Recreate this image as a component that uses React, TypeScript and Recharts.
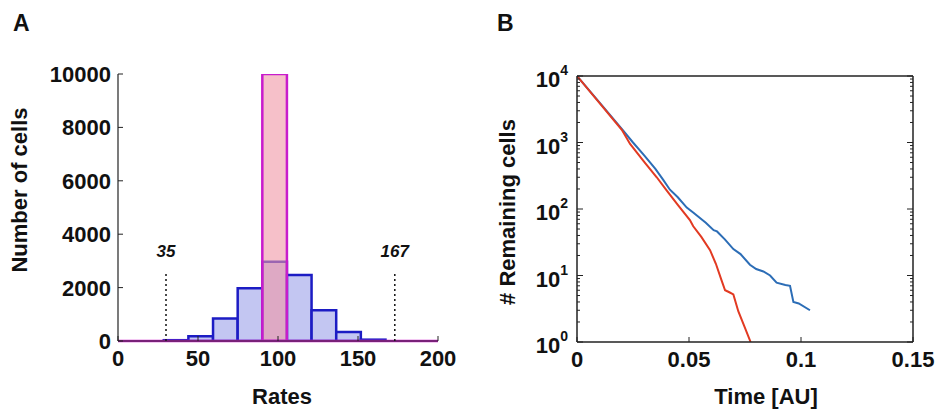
import React from 'react';
import { ComposedChart, Bar, Line, XAxis, YAxis, ReferenceLine } from 'recharts';

// panel A: histogram of rates
const binCenters = [36.3, 51.7, 67.1, 82.5, 97.9, 113.3, 128.7, 144.1, 159.5];
const spreadCounts = [30, 180, 840, 1980, 2970, 2470, 1150, 340, 50];
const fixedCounts = [0, 0, 0, 0, 10000, 0, 0, 0, 0];
const rateTicks = [0, 50, 100, 150, 200];
const cellTicks = [0, 2000, 4000, 6000, 8000, 10000];
const cutoffs = [
  { at: 30, label: '35' },
  { at: 173, label: '167' },
];
const cutoffHeight = 2550;

// panel B: remaining cells over time (log scale)
const blueTime = [0, 0.01, 0.02, 0.025, 0.03, 0.035, 0.0385, 0.0415, 0.045, 0.049, 0.052, 0.0575, 0.061, 0.0625, 0.066, 0.0698, 0.073, 0.0772, 0.08, 0.0832, 0.0862, 0.0891, 0.093, 0.0951, 0.0966, 0.099, 0.104];
const blueCells = [10000, 4000, 1600, 1000, 640, 400, 274, 195, 150, 105, 88, 62, 48, 46, 35, 25, 21, 14.5, 12.5, 11.5, 10, 7.8, 7.2, 7, 4, 3.8, 3];
const redTime = [0, 0.01, 0.02, 0.0237, 0.03, 0.0356, 0.04, 0.045, 0.0504, 0.0519, 0.0555, 0.0594, 0.062, 0.0645, 0.0661, 0.068, 0.0698, 0.072, 0.0745, 0.0775];
const redCells = [10000, 3950, 1550, 950, 510, 300, 190, 115, 68, 55, 38, 24, 15, 8.5, 6, 5.6, 5.2, 2.9, 1.8, 1];
const timeTicks = [0, 0.05, 0.1, 0.15];
const topTimeTicks = [0.05, 0.1];
const decades = [1, 10, 100, 1000];
const mantissas = [1, 2, 3, 4, 5, 6, 7, 8, 9];
const logTicks = [...decades.flatMap((d) => mantissas.map((m) => m * d)), 10000];

const FONT = '"Liberation Sans", Arial, Helvetica, sans-serif';

const histData = binCenters.map((rate, i) => ({ rate, spread: spreadCounts[i], fixed: fixedCounts[i] }));
const blueData = blueTime.map((t, i) => ({ t, n: blueCells[i] }));
const redData = redTime.map((t, i) => ({ t, n: redCells[i] }));

type TickProps = { x?: number; y?: number; payload?: { value: number } };

const isDecade = (v: number) => Math.abs(Math.log10(v) - Math.round(Math.log10(v))) < 1e-9;

function BottomTick({ x = 0, y = 0, payload }: TickProps) {
  return (
    <g>
      <line x1={x} y1={y} x2={x} y2={y - 5} stroke="#222" strokeWidth={1} />
      <text x={x} y={y + 25} textAnchor="middle" fontFamily={FONT} fontWeight="bold" fontSize={22} fill="#111">
        {payload?.value}
      </text>
    </g>
  );
}

function CellsTick({ x = 0, y = 0, payload }: TickProps) {
  return (
    <g>
      <line x1={x} y1={y} x2={x + 5} y2={y} stroke="#222" strokeWidth={1} />
      <text x={x - 7} y={y + 8} textAnchor="end" fontFamily={FONT} fontWeight="bold" fontSize={22} fill="#111">
        {payload?.value}
      </text>
    </g>
  );
}

function LogLeftTick({ x = 0, y = 0, payload }: TickProps) {
  const v = payload?.value ?? 1;
  const major = isDecade(v);
  return (
    <g>
      <line x1={x} y1={y} x2={x + (major ? 6 : 3)} y2={y} stroke="#222" strokeWidth={1} />
      {major && (
        <text x={x - 9} y={y + 11} textAnchor="end" fontFamily={FONT} fontWeight="bold" fontSize={22} fill="#111">
          10
          <tspan dy={-12} fontSize={14}>
            {Math.round(Math.log10(v))}
          </tspan>
        </text>
      )}
    </g>
  );
}

function LogRightTick({ x = 0, y = 0, payload }: TickProps) {
  const v = payload?.value ?? 1;
  return <line x1={x} y1={y} x2={x - (isDecade(v) ? 6 : 3)} y2={y} stroke="#222" strokeWidth={1} />;
}

function TopTick({ x = 0, y = 0 }: TickProps) {
  return <line x1={x} y1={y} x2={x} y2={y + 5} stroke="#222" strokeWidth={1} />;
}

const titleStyle = (cx: number, cy: number, rotate = false): React.CSSProperties => ({
  position: 'absolute',
  left: cx,
  top: cy,
  transform: `translate(-50%, -50%)${rotate ? ' rotate(-90deg)' : ''}`,
  whiteSpace: 'nowrap',
  fontFamily: FONT,
  fontWeight: 'bold',
  fontSize: 22,
  lineHeight: 1,
  color: '#111',
});

const letterStyle = (left: number): React.CSSProperties => ({
  position: 'absolute',
  left,
  top: 12,
  fontFamily: FONT,
  fontWeight: 'bold',
  fontSize: 23,
  lineHeight: 1,
  color: '#111',
});

export default function App() {
  return (
    <div style={{ position: 'absolute', left: 0, top: 0, width: 939, height: 412, background: '#fff' }}>
      <div style={{ position: 'absolute', left: 0, top: 0 }}>
        <ComposedChart
          width={470}
          height={412}
          data={histData}
          margin={{ top: 74, right: 32, bottom: 41, left: 0 }}
          barGap={0}
          barCategoryGap={0}
        >
          <XAxis
            xAxisId="a"
            dataKey="rate"
            type="number"
            domain={[0, 200]}
            ticks={rateTicks}
            interval={0}
            tickSize={0}
            tickMargin={0}
            height={30}
            tick={BottomTick}
            axisLine={{ stroke: '#222', strokeWidth: 1.2 }}
            allowDataOverflow
          />
          <XAxis xAxisId="m" dataKey="rate" type="number" domain={[0, 200]} hide allowDataOverflow />
          <YAxis
            type="number"
            domain={[0, 10000]}
            ticks={cellTicks}
            interval={0}
            tickSize={0}
            tickMargin={0}
            width={118}
            tick={CellsTick}
            axisLine={{ stroke: '#222', strokeWidth: 1.2 }}
            allowDataOverflow
          />
          <Bar
            xAxisId="a"
            dataKey="spread"
            barSize={24.6}
            fill="#c3c6f2"
            stroke="#1c1cc4"
            strokeWidth={2.5}
            isAnimationActive={false}
          />
          <Bar
            xAxisId="m"
            dataKey="fixed"
            barSize={24.6}
            fill="rgba(240,150,165,0.6)"
            stroke="#c81ccc"
            strokeWidth={2.5}
            isAnimationActive={false}
          />
          <ReferenceLine xAxisId="a" y={0} stroke="#d020d0" strokeWidth={2.5} />
          {cutoffs.map((c) => (
            <ReferenceLine
              key={c.label}
              xAxisId="a"
              segment={[
                { x: c.at, y: 0 },
                { x: c.at, y: cutoffHeight },
              ]}
              stroke="#111"
              strokeWidth={1.5}
              strokeDasharray="2 3"
              label={{
                value: c.label,
                position: 'top',
                offset: 16,
                fill: '#111',
                fontFamily: FONT,
                fontWeight: 'bold',
                fontStyle: 'italic',
                fontSize: 17,
              }}
            />
          ))}
        </ComposedChart>
      </div>

      <div style={{ position: 'absolute', left: 470, top: 0 }}>
        <ComposedChart width={469} height={412} margin={{ top: 66, right: 16, bottom: 40, left: 0 }}>
          <XAxis
            xAxisId="b"
            dataKey="t"
            type="number"
            domain={[0, 0.15]}
            ticks={timeTicks}
            interval={0}
            tickSize={0}
            tickMargin={0}
            height={30}
            tick={BottomTick}
            axisLine={{ stroke: '#222', strokeWidth: 1.5 }}
            allowDataOverflow
          />
          <XAxis
            xAxisId="t"
            orientation="top"
            type="number"
            domain={[0, 0.15]}
            ticks={topTimeTicks}
            interval={0}
            tickSize={0}
            tickMargin={0}
            height={10}
            tick={TopTick}
            axisLine={{ stroke: '#222', strokeWidth: 1.5 }}
            allowDataOverflow
          />
          <YAxis
            yAxisId="l"
            type="number"
            scale="log"
            domain={[1, 10000]}
            ticks={logTicks}
            interval={0}
            tickSize={0}
            tickMargin={0}
            width={107}
            tick={LogLeftTick}
            axisLine={{ stroke: '#222', strokeWidth: 1.5 }}
            allowDataOverflow
          />
          <YAxis
            yAxisId="r"
            orientation="right"
            type="number"
            scale="log"
            domain={[1, 10000]}
            ticks={logTicks}
            interval={0}
            tickSize={0}
            tickMargin={0}
            width={10}
            tick={LogRightTick}
            axisLine={{ stroke: '#222', strokeWidth: 1.5 }}
            allowDataOverflow
          />
          <Line
            xAxisId="b"
            yAxisId="l"
            data={blueData}
            dataKey="n"
            type="linear"
            stroke="#2c6db6"
            strokeWidth={2}
            dot={false}
            isAnimationActive={false}
          />
          <Line
            xAxisId="b"
            yAxisId="l"
            data={redData}
            dataKey="n"
            type="linear"
            stroke="#e23a22"
            strokeWidth={2}
            dot={false}
            isAnimationActive={false}
          />
        </ComposedChart>
      </div>

      <div style={letterStyle(13)}>A</div>
      <div style={letterStyle(497)}>B</div>
      <div style={titleStyle(20, 190, true)}>Number of cells</div>
      <div style={titleStyle(282, 397)}>Rates</div>
      <div style={titleStyle(508, 212, true)}># Remaining cells</div>
      <div style={titleStyle(766, 397)}>Time [AU]</div>
    </div>
  );
}
